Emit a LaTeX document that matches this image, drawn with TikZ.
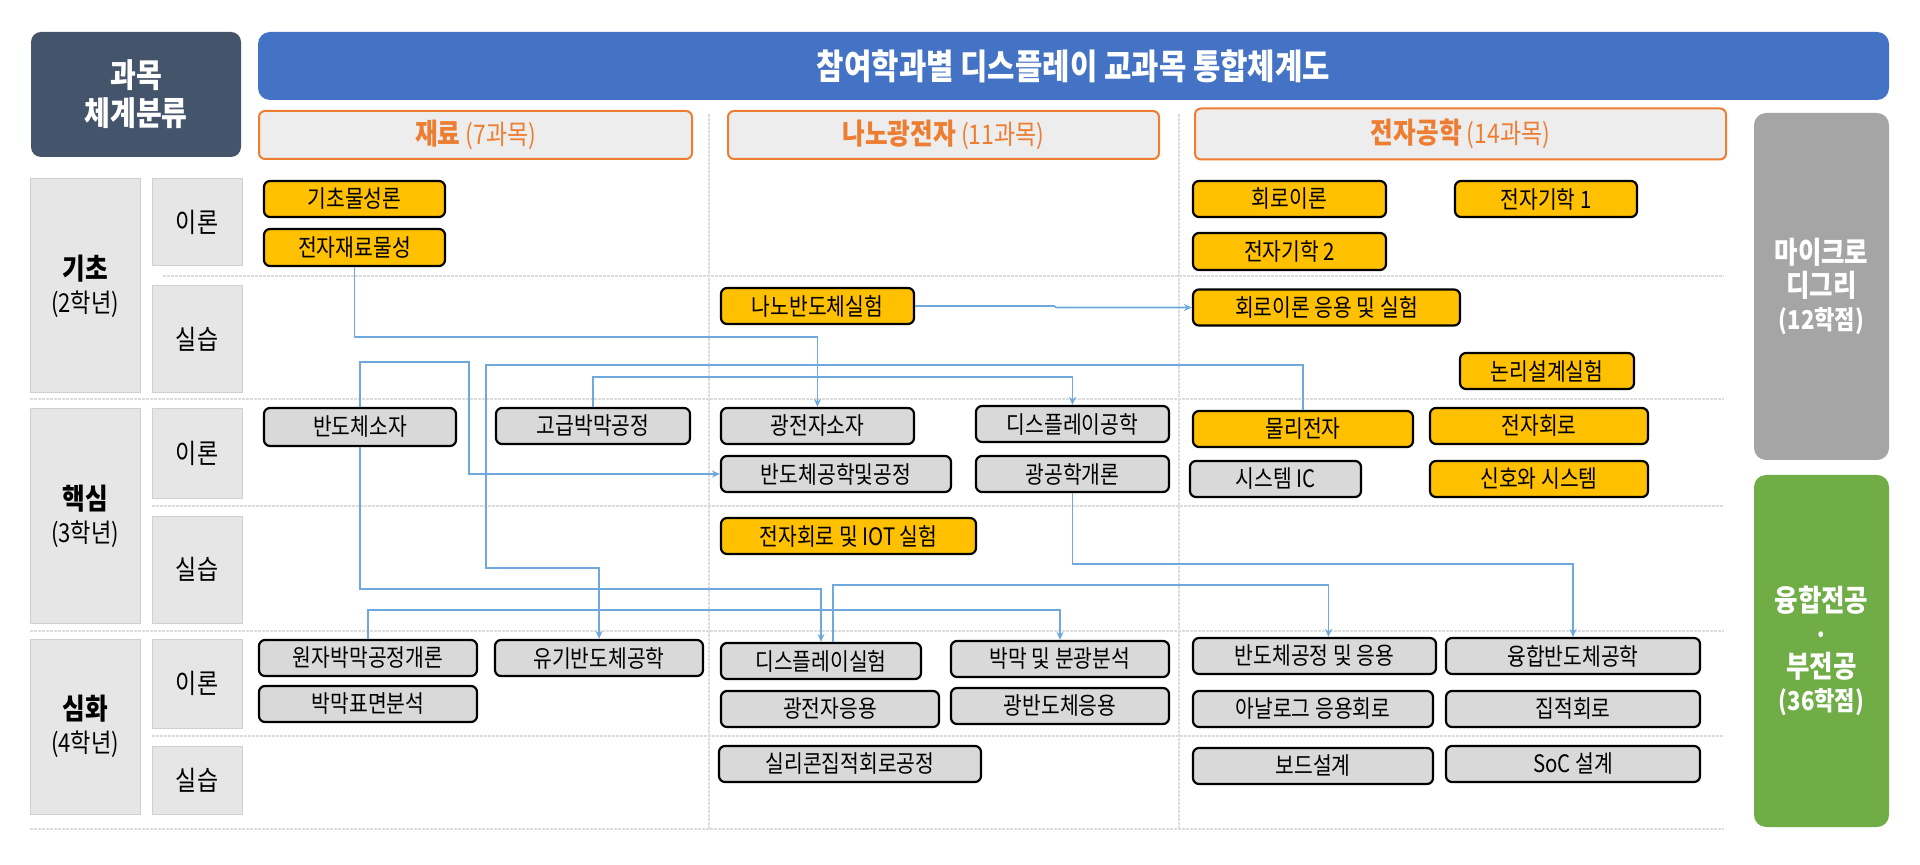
\documentclass[tikz,border=0pt]{standalone}
\usepackage{fontspec}
\setmainfont{Noto Sans CJK KR}[FakeStretch=0.85]
\usepackage{tikz}
\usetikzlibrary{arrows.meta}

\definecolor{cyellow}{HTML}{FFC000}
\definecolor{cgrey}{HTML}{D9D9D9}
\definecolor{corange}{HTML}{ED7D31}
\definecolor{cheader}{HTML}{EDEDED}
\definecolor{cblue}{HTML}{4472C4}
\definecolor{cdark}{HTML}{44546A}
\definecolor{cmicro}{HTML}{A5A5A5}
\definecolor{cgreen}{HTML}{70AD47}
\definecolor{clink}{HTML}{6FA8DC}
\definecolor{ccat}{HTML}{E7E6E6}
\definecolor{ccatline}{HTML}{D0CECE}
\definecolor{csep}{HTML}{DCDCDC}

\begin{document}
\begin{tikzpicture}[x=0.5pt, y=-0.5pt,
        coursebox/.style={draw=black, line width=1.1pt, rounded corners=3pt, minimum height=18pt, inner sep=0pt, font=\fontsize{12pt}{14pt}\selectfont},
        ybox/.style={coursebox, fill=cyellow},
        gbox/.style={coursebox, fill=cgrey},
        catbox/.style={draw=ccatline, fill=ccat, line width=0.5pt, inner sep=0pt, minimum width=45pt, align=center, font=\fontsize{13pt}{16.5pt}\selectfont},
        deptbox/.style={draw=corange, fill=cheader, line width=1pt, rounded corners=3pt, minimum height=24pt, inner sep=0pt, text=corange, font=\fontsize{13.5pt}{15pt}\selectfont},
        tagbox/.style={rounded corners=6pt, minimum width=67.5pt, inner sep=0pt, text=white, align=center, font=\fontsize{13pt}{16.5pt}\selectfont\bfseries},
        sepline/.style={draw=csep, line width=1pt, dash pattern=on 1.5pt off 0.5pt},
        link/.style={draw=clink, line width=0.8pt, -{Stealth[length=4pt,width=3.5pt]}}]

            \useasboundingbox (0,0) rectangle (1920,865);

            \draw[sepline] (163,276) -- (1724,276);
            \draw[sepline] (30,399) -- (1724,399);
            \draw[sepline] (152,506) -- (1724,506);
            \draw[sepline] (30,631) -- (1724,631);
            \draw[sepline] (152,736) -- (1724,736);
            \draw[sepline] (30,829) -- (1724,829);
            \draw[sepline] (709,114) -- (709,829);
            \draw[sepline] (1179,114) -- (1179,829);

            \node[fill=cdark, rounded corners=5pt, minimum width=105pt, minimum height=62.5pt, text=white, align=center, font=\fontsize{16.5pt}{19pt}\selectfont\bfseries] (corner) at (136,94.5) {과목\\체계분류};
            \node[fill=cblue, rounded corners=6pt, minimum width=815.5pt, minimum height=34pt, text=white, font=\fontsize{17.5pt}{19pt}\selectfont\bfseries] (title) at (1073.5,66) {참여학과별 디스플레이 교과목 통합체계도};

            \node[deptbox, minimum width=216.5pt] (dmat) at (475.5,135) {{\bfseries\fontsize{14.5pt}{15pt}\selectfont 재료} (7과목)};
            \node[deptbox, minimum width=215.5pt] (dnano) at (943.5,135) {{\bfseries\fontsize{14.5pt}{15pt}\selectfont 나노광전자} (11과목)};
            \node[deptbox, minimum width=265.5pt, minimum height=25.5pt] (delec) at (1460.5,134) {{\bfseries\fontsize{14.5pt}{15pt}\selectfont 전자공학} (14과목)};

            \node[tagbox, fill=cmicro, minimum height=173.5pt] (micro) at (1821.5,286.5) {{\fontsize{15pt}{16.5pt}\selectfont 마이크로}\\{\fontsize{15pt}{16.5pt}\selectfont 디그리}\\(12학점)};
            \node[tagbox, fill=cgreen, minimum height=176pt] (fusionmajor) at (1821.5,651) {{\fontsize{15pt}{16.5pt}\selectfont 융합전공}\\·\\{\fontsize{15pt}{16.5pt}\selectfont 부전공}\\(36학점)};

            \node[catbox, minimum width=55pt, minimum height=107pt] (basic) at (85,286) {{\bfseries\fontsize{14.5pt}{16.5pt}\selectfont 기초}\\(2학년)};
            \node[catbox, minimum height=43.5pt, font=\fontsize{13.5pt}{16pt}\selectfont] (basicth) at (197,222.5) {이론};
            \node[catbox, minimum height=53.5pt, font=\fontsize{13.5pt}{16pt}\selectfont] (basiclab) at (197,339.5) {실습};

            \node[catbox, minimum width=55pt, minimum height=107pt] (core) at (85,516) {{\bfseries\fontsize{14.5pt}{16.5pt}\selectfont 핵심}\\(3학년)};
            \node[catbox, minimum height=44.5pt, font=\fontsize{13.5pt}{16pt}\selectfont] (coreth) at (197,453.5) {이론};
            \node[catbox, minimum height=53.5pt, font=\fontsize{13.5pt}{16pt}\selectfont] (corelab) at (197,569.5) {실습};

            \node[catbox, minimum width=55pt, minimum height=87.5pt] (adv) at (85,726.5) {{\bfseries\fontsize{14.5pt}{16.5pt}\selectfont 심화}\\(4학년)};
            \node[catbox, minimum height=44.5pt, font=\fontsize{13.5pt}{16pt}\selectfont] (advth) at (197,683.5) {이론};
            \node[catbox, minimum height=34pt, font=\fontsize{13.5pt}{16pt}\selectfont] (advlab) at (197,780) {실습};

            \node[ybox, minimum width=90.5pt] (kicho) at (354.5,199) {기초물성론};
            \node[ybox, minimum width=90.5pt, minimum height=18.5pt] (jeonjamat) at (354.5,247.5) {전자재료물성};
            \node[gbox, minimum width=96pt, minimum height=19pt] (bandosoja) at (360,427) {반도체소자};
            \node[gbox, minimum width=97pt] (gogeup) at (593,426) {고급박막공정};
            \node[gbox, minimum width=109pt] (wonja) at (368,658) {원자박막공정개론};
            \node[gbox, minimum width=104pt] (yugi) at (599,658) {유기반도체공학};
            \node[gbox, minimum width=109pt] (bakmak) at (368,704) {박막표면분석};

            \node[ybox, minimum width=96.5pt] (nanolab) at (817.5,306) {나노반도체실험};
            \node[gbox, minimum width=96.5pt] (gjsoja) at (817.5,426) {광전자소자};
            \node[gbox, minimum width=115pt] (bandogong) at (836,474) {반도체공학및공정};
            \node[gbox, minimum width=96.5pt] (dispeng) at (1072.5,424) {디스플레이공학};
            \node[gbox, minimum width=96.5pt] (optics) at (1072.5,474) {광공학개론};
            \node[ybox, minimum width=127.5pt] (iotlab) at (848.5,536) {전자회로 및 IOT 실험};
            \node[gbox, minimum width=100pt] (displab) at (821,661) {디스플레이실험};
            \node[gbox, minimum width=109pt] (thinfilm) at (1060,659) {박막 및 분광분석};
            \node[gbox, minimum width=109pt] (gjapp) at (830,709) {광전자응용};
            \node[gbox, minimum width=109pt] (optsemi) at (1060,706) {광반도체응용};
            \node[gbox, minimum width=131pt] (silicon) at (850,764) {실리콘집적회로공정};

            \node[ybox, minimum width=96.5pt] (circuit) at (1289.5,199) {회로이론};
            \node[ybox, minimum width=91pt] (em1) at (1546,199) {전자기학 1};
            \node[ybox, minimum width=96.5pt, minimum height=18.5pt] (em2) at (1289.5,251.5) {전자기학 2};
            \node[ybox, minimum width=133.5pt] (circlab) at (1326.5,307.5) {회로이론 응용 및 실험};
            \node[ybox, minimum width=87pt] (logiclab) at (1547,371) {논리설계실험};
            \node[ybox, minimum width=110pt] (physelec) at (1303,429) {물리전자};
            \node[ybox, minimum width=109pt] (eleccirc) at (1539,426) {전자회로};
            \node[gbox, minimum width=85.5pt] (sysic) at (1275.5,479) {시스템 IC};
            \node[ybox, minimum width=109pt] (signal) at (1539,479) {신호와 시스템};
            \node[gbox, minimum width=121.5pt] (semiproc) at (1314.5,656) {반도체공정 및 응용};
            \node[gbox, minimum width=127pt] (fusion) at (1573,656) {융합반도체공학};
            \node[gbox, minimum width=120pt] (analog) at (1313,709) {아날로그 응용회로};
            \node[gbox, minimum width=127pt] (ic) at (1573,709) {집적회로};
            \node[gbox, minimum width=120pt] (board) at (1313,766) {보드설계};
            \node[gbox, minimum width=127pt] (soc) at (1573,764) {SoC 설계};

            \draw[link] (jeonjamat.south) -- ++(0,70) -| (gjsoja.north);
            \draw[link] (nanolab.east) -- ++(139,0) -- ++(2,1.5) -- (circlab.west);
            \draw[link] (bandosoja.north) -- ++(0,-45) -| (469,474) -- (bandogong.west);
            \draw[link] (bandosoja.south) -- ++(0,142) -| (displab.north);
            \draw[link] (physelec.north) -- ++(0,-45) -| (486,568) -| (yugi.north);
            \draw[link] (gogeup.north) -- ++(0,-30) -| (dispeng.north);
            \draw[link] (optics.south) -- ++(0,71) -| (fusion.north);
            \draw[link] (wonja.north) -- ++(0,-29) -| (thinfilm.north);
            \draw[link] ([xshift=6pt]displab.north) -- ++(0,-57) -| ([xshift=7pt]semiproc.north);

        \end{tikzpicture}
\end{document}
